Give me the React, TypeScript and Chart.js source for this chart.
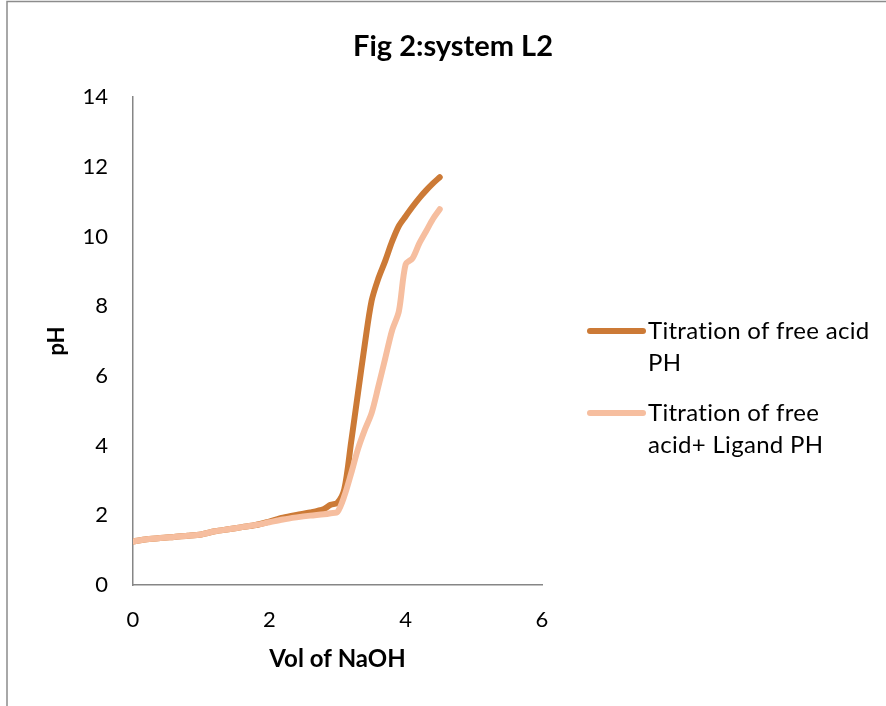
import React, { useEffect, useRef } from "react";
import { Chart, registerables } from "chart.js";

Chart.register(...registerables);

const chartTitle = "Fig 2:system L2";
const xAxisTitle = "Vol of NaOH";
const yAxisTitle = "pH";

const volNaOH = [0, 0.2, 0.4, 0.6, 0.8, 1.0, 1.2, 1.4, 1.6, 1.8, 2.0, 2.2, 2.4, 2.6, 2.8, 2.9, 3.0, 3.1, 3.2, 3.3, 3.4, 3.5, 3.6, 3.7, 3.8, 3.9, 4.0, 4.1, 4.2, 4.3, 4.4, 4.5];
const phFreeAcid = [1.25, 1.31, 1.35, 1.38, 1.41, 1.45, 1.54, 1.6, 1.66, 1.72, 1.82, 1.93, 2.01, 2.08, 2.18, 2.3, 2.36, 2.75, 4.1, 5.5, 6.9, 8.15, 8.8, 9.3, 9.85, 10.3, 10.58, 10.85, 11.1, 11.32, 11.52, 11.7];
const phFreeAcidLigand = [1.25, 1.31, 1.35, 1.38, 1.41, 1.45, 1.54, 1.6, 1.66, 1.72, 1.8, 1.88, 1.94, 1.99, 2.03, 2.06, 2.1, 2.55, 3.2, 3.9, 4.45, 4.93, 5.7, 6.5, 7.3, 7.85, 9.2, 9.37, 9.8, 10.15, 10.5, 10.78];

const seriesNames = [
  ["Titration of free acid", "PH"],
  ["Titration of free", "acid+ Ligand PH"],
];
const seriesColors = ["#CC7A36", "#F6BE9F"];

const xTicks = [0, 2, 4, 6];
const yTicks = [0, 2, 4, 6, 8, 10, 12, 14];

const FONT = "Lato, 'Open Sans', sans-serif";

const decorPlugin = {
  id: "decor",
  beforeDraw(chart: any) {
    const ctx = chart.ctx;
    ctx.save();
    ctx.fillStyle = "#ffffff";
    ctx.fillRect(0, 0, chart.width, chart.height);
    ctx.strokeStyle = "#8c8c8c";
    ctx.lineWidth = 1.5;
    ctx.beginPath();
    ctx.moveTo(7, chart.height);
    ctx.lineTo(7, 1.5);
    ctx.lineTo(chart.width, 1.5);
    ctx.stroke();
    ctx.restore();
  },
  afterDraw(chart: any) {
    const ctx = chart.ctx;
    ctx.save();
    ctx.fillStyle = "#000000";
    ctx.font = `bold 29px ${FONT}`;
    ctx.textAlign = "center";
    ctx.textBaseline = "middle";
    ctx.fillText(chartTitle, 453, 47);
    ctx.font = `24px ${FONT}`;
    ctx.textAlign = "left";
    try { (ctx as any).letterSpacing = "0.3px"; } catch (e) {}
    const startY = [331, 413];
    chart.data.datasets.forEach((ds: any, i: number) => {
      const y = startY[i];
      ctx.strokeStyle = ds.borderColor;
      ctx.lineWidth = 6;
      ctx.lineCap = "round";
      ctx.beginPath();
      ctx.moveTo(590, y);
      ctx.lineTo(643, y);
      ctx.stroke();
      ctx.fillStyle = "#000000";
      seriesNames[i].forEach((line, j) => {
        ctx.fillText(line, 648, y + j * 32);
      });
    });
    ctx.restore();
  },
};

export default function App() {
  const ref = useRef<HTMLCanvasElement | null>(null);
  useEffect(() => {
    if (!ref.current) return;
    const chart = new Chart(ref.current, {
      type: "line",
      data: {
        datasets: [
          {
            label: seriesNames[0].join(" "),
            data: volNaOH.map((x, i) => ({ x, y: phFreeAcid[i] })),
            borderColor: seriesColors[0],
            backgroundColor: seriesColors[0],
            borderWidth: 6,
            pointRadius: 0,
            tension: 0.3,
            borderCapStyle: "round",
            borderJoinStyle: "round",
            order: 2,
          },
          {
            label: seriesNames[1].join(" "),
            data: volNaOH.map((x, i) => ({ x, y: phFreeAcidLigand[i] })),
            borderColor: seriesColors[1],
            backgroundColor: seriesColors[1],
            borderWidth: 6,
            pointRadius: 0,
            tension: 0.3,
            borderCapStyle: "round",
            borderJoinStyle: "round",
            order: 1,
          },
        ],
      },
      options: {
        responsive: false,
        animation: false,
        devicePixelRatio: 1,
        layout: { padding: { left: 0, top: 97, right: 344, bottom: 0 } },
        plugins: {
          legend: { display: false },
          title: { display: false },
          tooltip: { enabled: false },
        },
        scales: {
          x: {
            type: "linear",
            min: 0,
            max: 6,
            afterBuildTicks: (s: any) => {
              s.ticks = xTicks.map((v) => ({ value: v }));
            },
            afterFit: (s: any) => {
              s.height = 121;
            },
            grid: { display: false, drawTicks: false },
            border: { display: true, color: "#868686", width: 1.5 },
            ticks: {
              font: { family: FONT, size: 22 },
              color: "#000000",
              padding: 22,
              maxRotation: 0,
            },
            title: {
              display: true,
              text: xAxisTitle,
              font: { family: FONT, size: 24, weight: "bold" },
              color: "#000000",
              padding: { top: 0, bottom: 32 },
            },
          },
          y: {
            type: "linear",
            min: 0,
            max: 14,
            afterBuildTicks: (s: any) => {
              s.ticks = yTicks.map((v) => ({ value: v }));
            },
            afterFit: (s: any) => {
              s.width = 133;
            },
            grid: { display: false, drawTicks: false },
            border: { display: true, color: "#868686", width: 1.5 },
            ticks: {
              font: { family: FONT, size: 22 },
              color: "#000000",
              padding: 25,
            },
            title: {
              display: true,
              text: yAxisTitle,
              font: { family: FONT, size: 22, weight: "bold" },
              color: "#000000",
              padding: { top: 44, bottom: 0 },
            },
          },
        },
      },
      plugins: [decorPlugin],
    } as any);
    return () => chart.destroy();
  }, []);
  return (
    <div style={{ position: "fixed", left: 0, top: 0, width: 886, height: 706, background: "#fff" }}>
      <canvas ref={ref} width={886} height={706} style={{ display: "block" }} />
    </div>
  );
}
